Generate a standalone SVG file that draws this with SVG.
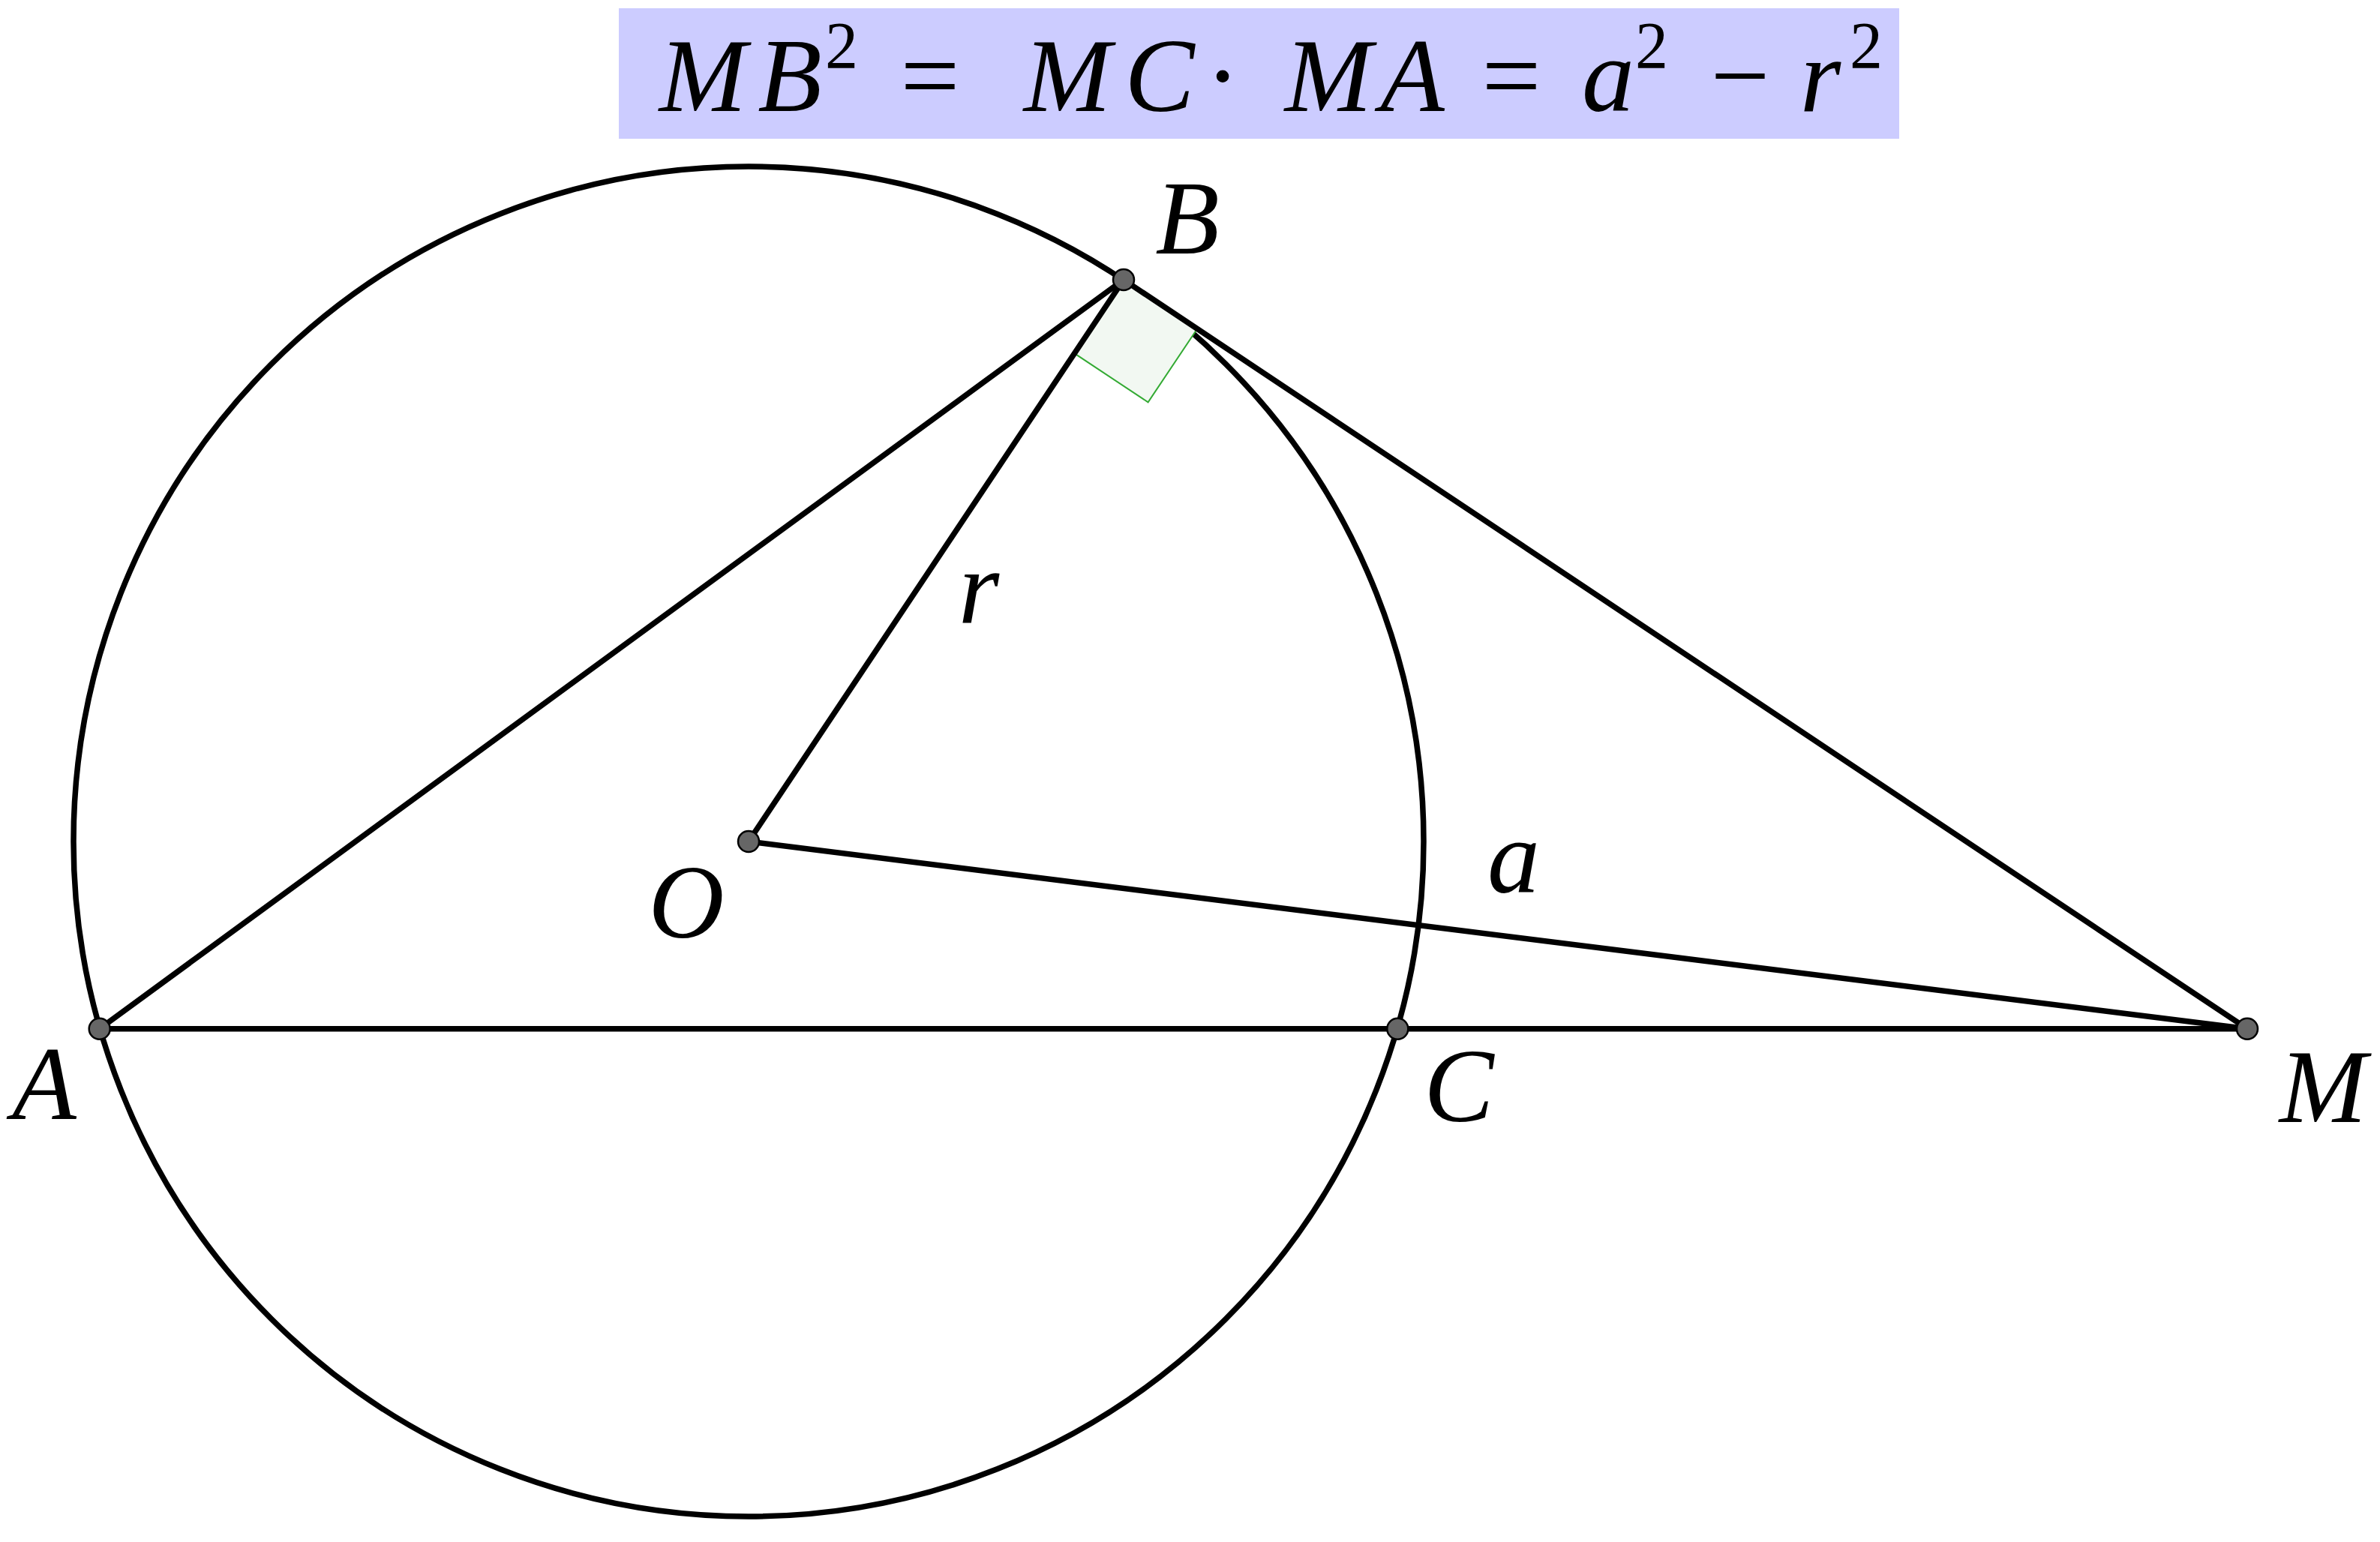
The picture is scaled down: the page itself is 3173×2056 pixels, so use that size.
<svg xmlns="http://www.w3.org/2000/svg" width="3173" height="2056" viewBox="0 0 3173 2056">
<style>
.ln{stroke:#000;stroke-width:7.5;fill:none;stroke-linecap:round}
.pt{fill:#666;stroke:#000;stroke-width:2.5}
.it{font-family:"Liberation Serif","DejaVu Serif",serif;font-style:italic;font-size:140px;fill:#000;text-anchor:middle}
.up{font-family:"Liberation Serif","DejaVu Serif",serif;font-style:normal;font-size:140px;fill:#000;text-anchor:middle}
.sup{font-family:"Liberation Serif","DejaVu Serif",serif;font-style:normal;font-size:88px;fill:#000;text-anchor:middle}
</style>
<rect width="3173" height="2056" fill="#fff"/>
<g id="title">
<rect x="825" y="11" width="1707" height="174" fill="#ccccff"/>
<text class="it" x="937" y="148">M</text>
<text class="it" x="1053" y="148">B</text>
<text class="sup" x="1122" y="90">2</text>
<text class="up" x="1240" y="148">=</text>
<text class="it" x="1423" y="148">M</text>
<text class="it" x="1546" y="148">C</text>
<text class="up" x="1630" y="148">·</text>
<text class="it" x="1771" y="148">M</text>
<text class="it" x="1883" y="148">A</text>
<text class="up" x="2015" y="148">=</text>
<text class="it" x="2144" y="148">a</text>
<text class="sup" x="2202" y="90">2</text>
<text class="up" x="2320" y="148">−</text>
<text class="it" x="2427" y="148">r</text>
<text class="sup" x="2488" y="90">2</text>
</g>
<g id="circle">
<circle cx="998" cy="1122" r="900" class="ln" stroke-width="6.5"/>
</g>
<g id="right-angle">
<polygon points="1498,373 1432.4,471.2 1530.6,536.3 1596.2,438.4" fill="#f2f8f2" stroke="#33aa33" stroke-width="2"/>
</g>
<g id="connectors">
<line class="ln" x1="132.7" y1="1371.7" x2="1498" y2="373"/>
<line class="ln" x1="998" y1="1122" x2="1498" y2="373"/>
<line class="ln" x1="998" y1="1122" x2="2996" y2="1371.7"/>
<line class="ln" x1="1498" y1="373" x2="2996" y2="1371.7"/>
<line class="ln" x1="132.7" y1="1371.7" x2="2996" y2="1371.7"/>
</g>
<g id="point-A"><circle class="pt" cx="132.7" cy="1371.7" r="14"/><text class="it" x="59" y="1492">A</text></g>
<g id="point-B"><circle class="pt" cx="1498" cy="373" r="14"/><text class="it" x="1583" y="338">B</text></g>
<g id="point-C"><circle class="pt" cx="1863.3" cy="1371.7" r="14"/><text class="it" x="1945" y="1495">C</text></g>
<g id="point-O"><circle class="pt" cx="998" cy="1122" r="14"/><text class="it" x="915" y="1250">O</text></g>
<g id="point-M"><circle class="pt" cx="2996" cy="1371.7" r="14"/><text class="it" x="3097" y="1496">M</text></g>
<g id="label-r"><text class="it" x="1305" y="830">r</text></g>
<g id="label-a"><text class="it" x="2018" y="1190">a</text></g>
</svg>
